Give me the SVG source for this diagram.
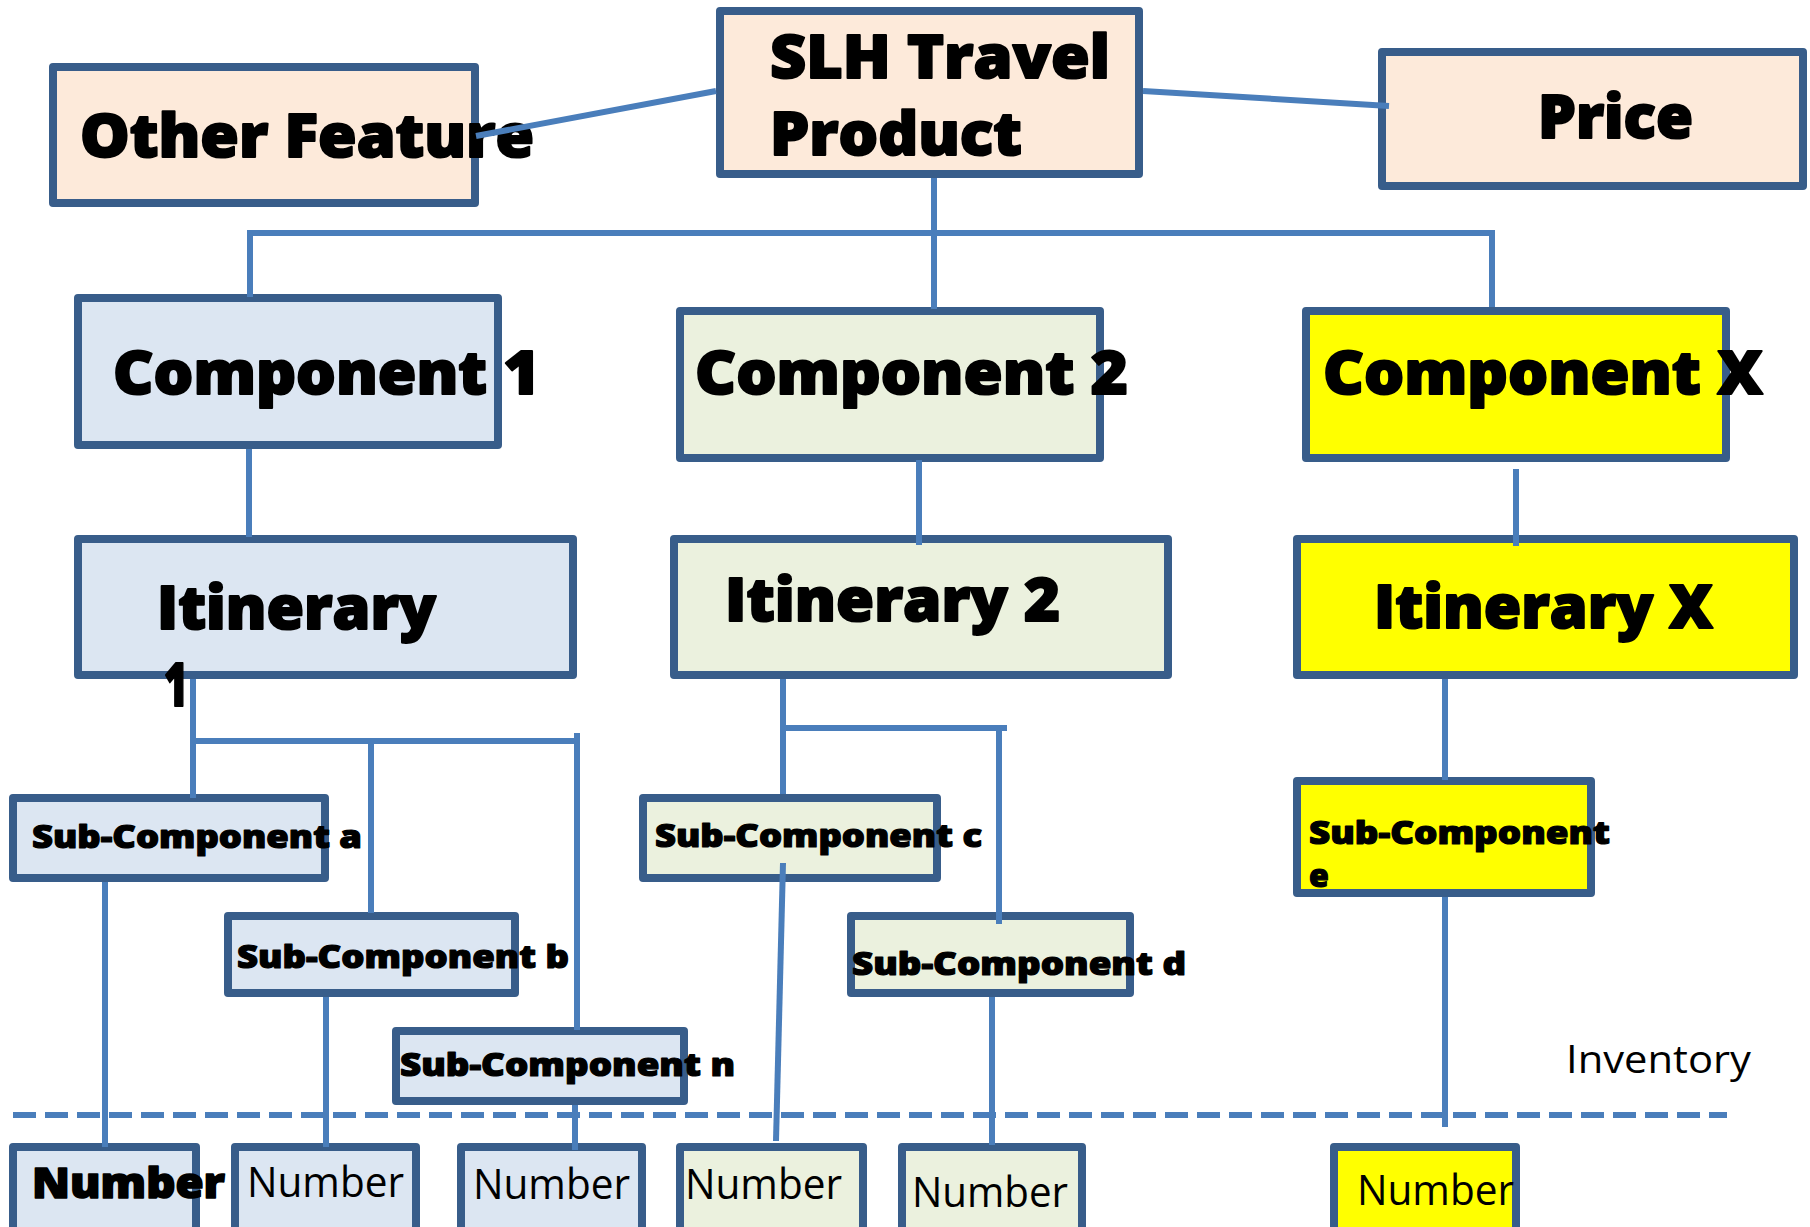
<svg xmlns="http://www.w3.org/2000/svg" width="1810" height="1227" viewBox="0 0 1810 1227">
<style>
.box{stroke:#385D8A;stroke-width:8;stroke-linejoin:round}
.peach{fill:#FDEADA}.blue{fill:#DCE6F2}.green{fill:#EBF1DE}.yel{fill:#FFFF00}
.t{font-family:"Open Sans","Liberation Sans",sans-serif;fill:#000}
.b{font-weight:800;stroke:#000;stroke-linejoin:round}
.big{font-size:60px;stroke-width:2}.sub{font-size:32px;stroke-width:1.2}.num{font-size:42px}
.num.b{stroke-width:1.6}
.c{fill:none;stroke:#4A7EBB;stroke-width:6}
</style>
<rect width="1810" height="1227" fill="#FFFFFF"/>
<g id="other-feature"><rect class="box peach" x="53" y="67" width="422" height="136"/><text class="t b big" x="80" y="157" textLength="454" lengthAdjust="spacingAndGlyphs">Other Feature</text></g>
<g id="slh"><rect class="box peach" x="720" y="11" width="419" height="163"/><text class="t b big" x="770" y="78" textLength="340" lengthAdjust="spacingAndGlyphs">SLH Travel</text><text class="t b big" x="770" y="155" textLength="252" lengthAdjust="spacingAndGlyphs">Product</text></g>
<g id="price"><rect class="box peach" x="1382" y="52" width="421" height="134"/><text class="t b big" x="1538" y="138" textLength="155" lengthAdjust="spacingAndGlyphs">Price</text></g>
<g id="comp1"><rect class="box blue" x="78" y="298" width="420" height="147"/><text class="t b big" x="113" y="394" textLength="427" lengthAdjust="spacingAndGlyphs">Component 1</text></g>
<g id="comp2"><rect class="box green" x="680" y="311" width="420" height="147"/><text class="t b big" x="695" y="394" textLength="433" lengthAdjust="spacingAndGlyphs">Component 2</text></g>
<g id="compx"><rect class="box yel" x="1306" y="311" width="420" height="147"/><text class="t b big" x="1323" y="394" textLength="440" lengthAdjust="spacingAndGlyphs">Component X</text></g>
<g id="itin1"><rect class="box blue" x="78" y="539" width="495" height="136"/><text class="t b big" x="157" y="629" textLength="279" lengthAdjust="spacingAndGlyphs">Itinerary</text><text class="t b big" x="164" y="706" textLength="24" lengthAdjust="spacingAndGlyphs">1</text></g>
<g id="itin2"><rect class="box green" x="674" y="539" width="494" height="136"/><text class="t b big" x="725" y="621" textLength="335" lengthAdjust="spacingAndGlyphs">Itinerary 2</text></g>
<g id="itinx"><rect class="box yel" x="1297" y="539" width="497" height="136"/><text class="t b big" x="1374" y="628" textLength="339" lengthAdjust="spacingAndGlyphs">Itinerary X</text></g>
<g id="sub-a"><rect class="box blue" x="13" y="798" width="312" height="80"/><text class="t b sub" x="32" y="848" textLength="330" lengthAdjust="spacingAndGlyphs">Sub-Component a</text></g>
<g id="sub-b"><rect class="box blue" x="228" y="916" width="287" height="77"/><text class="t b sub" x="237" y="968" textLength="332" lengthAdjust="spacingAndGlyphs">Sub-Component b</text></g>
<g id="sub-n"><rect class="box blue" x="396" y="1031" width="288" height="70"/><text class="t b sub" x="400" y="1076" textLength="335" lengthAdjust="spacingAndGlyphs">Sub-Component n</text></g>
<g id="sub-c"><rect class="box green" x="643" y="798" width="294" height="80"/><text class="t b sub" x="655" y="847" textLength="327" lengthAdjust="spacingAndGlyphs">Sub-Component c</text></g>
<g id="sub-d"><rect class="box green" x="851" y="916" width="279" height="77"/><text class="t b sub" x="852" y="975" textLength="334" lengthAdjust="spacingAndGlyphs">Sub-Component d</text></g>
<g id="sub-e"><rect class="box yel" x="1297" y="781" width="294" height="112"/><text class="t b sub" x="1309" y="844" textLength="301" lengthAdjust="spacingAndGlyphs">Sub-Component</text><text class="t b sub" x="1309" y="887">e</text></g>
<g id="num1"><rect class="box blue" x="13" y="1147" width="183" height="100"/><text class="t b num" x="32" y="1198" textLength="193" lengthAdjust="spacingAndGlyphs">Number</text></g>
<g id="num2"><rect class="box blue" x="235" y="1147" width="181" height="100"/><text class="t num" x="247" y="1197" textLength="157" lengthAdjust="spacingAndGlyphs">Number</text></g>
<g id="num3"><rect class="box blue" x="461" y="1147" width="181" height="100"/><text class="t num" x="473" y="1199" textLength="157" lengthAdjust="spacingAndGlyphs">Number</text></g>
<g id="num4"><rect class="box green" x="680" y="1147" width="183" height="100"/><text class="t num" x="685" y="1199" textLength="157" lengthAdjust="spacingAndGlyphs">Number</text></g>
<g id="num5"><rect class="box green" x="902" y="1147" width="180" height="100"/><text class="t num" x="912" y="1207" textLength="156" lengthAdjust="spacingAndGlyphs">Number</text></g>
<g id="num6"><rect class="box yel" x="1334" y="1147" width="182" height="100"/><text class="t num" x="1357" y="1205" textLength="157" lengthAdjust="spacingAndGlyphs">Number</text></g>
<g id="inventory"><text class="t" x="1566" y="1073" font-size="39" textLength="185" lengthAdjust="spacingAndGlyphs">Inventory</text></g>
<g id="connectors">
<path class="c" d="M476,136 L716,91"/>
<path class="c" d="M1143,91 L1389,106"/>
<path class="c" d="M934,178 V309"/>
<path class="c" d="M250,297 V233 H1492 V307"/>
<path class="c" d="M249,449 V537"/>
<path class="c" d="M919,460 V545"/>
<path class="c" d="M1516,469 V546"/>
<path class="c" d="M193,679 V798 M193,741 H577 M577,733 V1030 M371,741 V913"/>
<path class="c" d="M105,882 V1147"/>
<path class="c" d="M326,997 V1147"/>
<path class="c" d="M575,1105 V1150"/>
<path class="c" d="M783,679 V794 M783,728 H1007 M999,728 V924"/>
<path class="c" d="M783,863 L776,1141"/>
<path class="c" d="M992,997 V1145"/>
<path class="c" d="M1445,679 V780"/>
<path class="c" d="M1445,897 V1127"/>
<path class="c" d="M13,1115 H1727" stroke-dasharray="23 9"/>
</g>
</svg>
